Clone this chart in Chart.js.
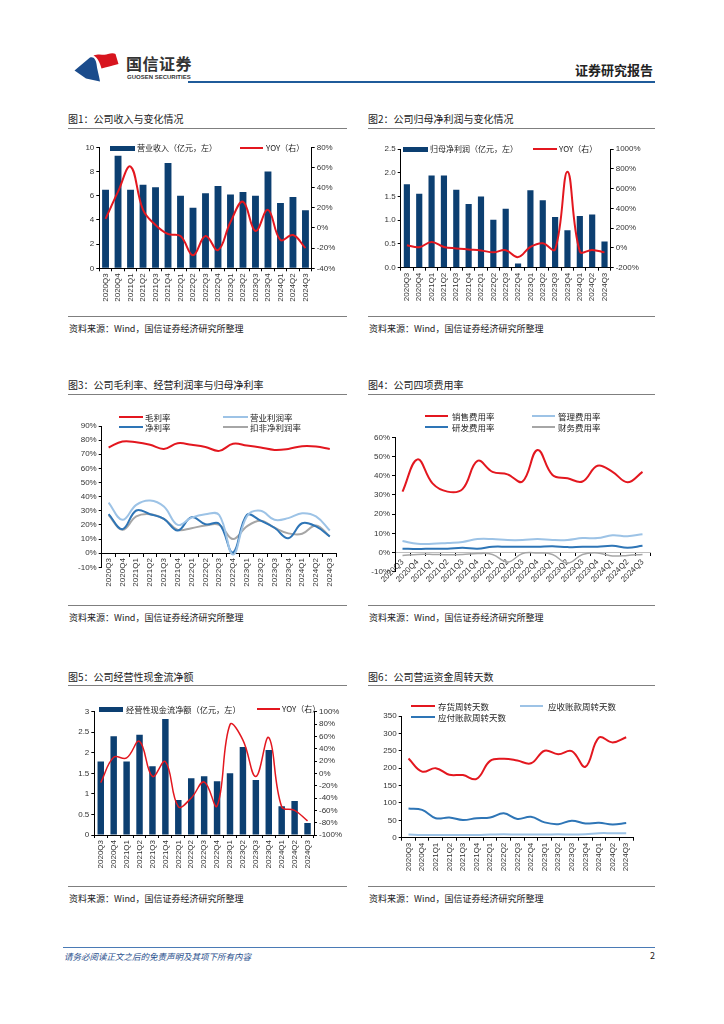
<!DOCTYPE html>
<html lang="zh-CN">
<head>
<meta charset="utf-8">
<title>证券研究报告</title>
<script src="https://cdn.jsdelivr.net/npm/chart.js@4.4.1/dist/chart.umd.min.js"></script>
<style>
  html, body { margin: 0; padding: 0; background: #fff; }
  body { width: 724px; height: 1024px; position: relative; overflow: hidden;
         font-family: "Noto Sans CJK SC", "Liberation Sans", sans-serif; color: #222; }
  .abs { position: absolute; white-space: nowrap; }
  .title { font-size: 10px; line-height: 12px; color: #222; }
  .rule { height: 0; border-top: 1px solid #7f7f7f; }
  .src { font-size: 9px; line-height: 11px; color: #222; }
  .box { position: absolute; }
  .leg { position: absolute; font-size: 8px; line-height: 10px; color: #222; white-space: nowrap; }
  .sw { position: absolute; }
</style>
</head>
<body>

<!-- cabecera -->
<svg class="abs" style="left:0;top:0" width="724" height="100">
  <path d="M74.5 70.5 L90 57.5 C94 56 96 60 96.5 64 C97 69 99 75 100 81.5 L86 78.5 Z" fill="#1b4c8c"/>
  <path d="M93.5 55.5 C100 53 104 56 108 54 C111 53 114 53 115.5 54 L118.5 64 C112 66 106 67 101.5 68.5 C100 63 98 58 93.5 55.5 Z" fill="#d7141e"/>
</svg>
<div class="abs" style="left:126px;top:54px;font-size:16px;line-height:18px;font-weight:bold;color:#333;letter-spacing:0.5px">国信证券</div>
<div class="abs" style="left:127px;top:74px;font-size:6px;line-height:7px;color:#333;font-family:'Liberation Sans',sans-serif;font-weight:bold">GUOSEN SECURITIES</div>
<div class="abs" style="left:575px;top:62px;font-size:13px;line-height:16px;font-weight:bold;color:#222">证券研究报告</div>
<div class="abs" style="left:188px;top:81px;width:467px;height:2px;background:#1f5b9a"></div>

<!-- títulos -->
<div class="abs title" style="left:68px;top:113px">图1：公司收入与变化情况</div>
<div class="abs rule" style="left:68px;top:128px;width:279px"></div>
<div class="abs title" style="left:368px;top:113px">图2：公司归母净利润与变化情况</div>
<div class="abs rule" style="left:368px;top:128px;width:287px"></div>
<div class="abs title" style="left:68px;top:379px">图3：公司毛利率、经营利润率与归母净利率</div>
<div class="abs rule" style="left:68px;top:394px;width:279px"></div>
<div class="abs title" style="left:368px;top:379px">图4：公司四项费用率</div>
<div class="abs rule" style="left:368px;top:394px;width:287px"></div>
<div class="abs title" style="left:68px;top:671px">图5：公司经营性现金流净额</div>
<div class="abs rule" style="left:68px;top:685px;width:279px"></div>
<div class="abs title" style="left:368px;top:671px">图6：公司营运资金周转天数</div>
<div class="abs rule" style="left:368px;top:685px;width:287px"></div>

<!-- gráficos -->
<div class="box" style="left:60px;top:140px;width:290px;height:170px"><canvas id="c1"></canvas></div>
<div class="box" style="left:360px;top:140px;width:300px;height:170px"><canvas id="c2"></canvas></div>
<div class="box" style="left:60px;top:415px;width:290px;height:175px"><canvas id="c3"></canvas></div>
<div class="box" style="left:355px;top:425px;width:305px;height:165px"><canvas id="c4"></canvas></div>
<div class="box" style="left:55px;top:700px;width:295px;height:180px"><canvas id="c5"></canvas></div>
<div class="box" style="left:360px;top:705px;width:300px;height:175px"><canvas id="c6"></canvas></div>

<div id="legends"></div>

<!-- fuentes -->
<div class="abs rule" style="left:68px;top:316px;width:279px"></div>
<div class="abs src" style="left:69px;top:323px">资料来源：Wind，国信证券经济研究所整理</div>
<div class="abs rule" style="left:368px;top:316px;width:287px"></div>
<div class="abs src" style="left:369px;top:323px">资料来源：Wind，国信证券经济研究所整理</div>
<div class="abs rule" style="left:68px;top:605px;width:279px"></div>
<div class="abs src" style="left:69px;top:612px">资料来源：Wind，国信证券经济研究所整理</div>
<div class="abs rule" style="left:368px;top:605px;width:287px"></div>
<div class="abs src" style="left:369px;top:612px">资料来源：Wind，国信证券经济研究所整理</div>
<div class="abs rule" style="left:68px;top:886px;width:279px"></div>
<div class="abs src" style="left:69px;top:893px">资料来源：Wind，国信证券经济研究所整理</div>
<div class="abs rule" style="left:368px;top:886px;width:287px"></div>
<div class="abs src" style="left:369px;top:893px">资料来源：Wind，国信证券经济研究所整理</div>

<!-- pie de página -->
<div class="abs" style="left:63px;top:947px;width:592px;height:1px;background:#4a7ab5"></div>
<div class="abs" style="left:64px;top:951px;font-size:8.5px;line-height:10px;font-style:italic;color:#1f4e8c">请务必阅读正文之后的免责声明及其项下所有内容</div>
<div class="abs" style="left:650px;top:950px;font-size:9px;line-height:11px;color:#222">2</div>

<script>
// Datos
const quarters = ['2020Q3', '2020Q4', '2021Q1', '2021Q2', '2021Q3', '2021Q4', '2022Q1', '2022Q2', '2022Q3',
    '2022Q4', '2023Q1', '2023Q2', '2023Q3', '2023Q4', '2024Q1', '2024Q2', '2024Q3'];

// 图1 营业收入（亿元）与 YOY（%）
const revenue = [6.5, 9.3, 6.5, 6.9, 6.7, 8.7, 6.0, 5.0, 6.2, 6.8, 6.1, 6.3, 6.0, 8.0, 5.4, 5.9, 4.8];
const revenueYoy = [9, 36, 61, 18, 3, -6, -8, -27, -8, -22, 6, 26, -3, 18, -12, -7, -20];
const revenueTicks = [0, 2, 4, 6, 8, 10];
const revenueYoyTicks = [-40, -20, 0, 20, 40, 60, 80];

// 图2 归母净利润（亿元）与 YOY（%）
const netProfit = [1.76, 1.56, 1.94, 1.94, 1.64, 1.34, 1.50, 1.01, 1.24, 0.09, 1.63, 1.42, 1.07, 0.79, 1.09, 1.12, 0.55];
const netProfitYoy = [27, 7, 60, 10, -5, -15, -25, -45, -23, -93, 10, 47, -15, 770, -35, -20, -45];
const netProfitTicks = [0, 0.5, 1.0, 1.5, 2.0, 2.5];
const netProfitYoyTicks = [-200, 0, 200, 400, 600, 800, 1000];

// 图3 利润率（%）
const grossMargin = [74.8, 79.0, 78.5, 76.7, 73.8, 77.8, 76.7, 75.2, 72.4, 77.4, 76.2, 74.8, 73.1, 73.8, 75.7, 75.5, 73.8];
const opMargin = [35.8, 23.6, 34.2, 37.3, 33.0, 20.0, 25.2, 27.6, 27.0, -1.0, 26.0, 30.0, 23.6, 24.8, 28.3, 26.0, 16.0];
const netMargin = [27.6, 17.0, 30.2, 27.6, 24.3, 16.0, 25.5, 20.5, 20.7, 0.5, 27.0, 23.0, 18.0, 10.6, 21.2, 18.9, 11.8];
const deductedMargin = [27.0, 16.5, 26.0, 27.6, 24.3, 16.5, 17.7, 19.6, 20.0, 10.0, 19.0, 23.0, 18.0, 14.0, 13.7, 19.6, 11.8];
const marginTicks = [-10, 0, 10, 20, 30, 40, 50, 60, 70, 80, 90];

// 图4 四项费用率（%）
const salesExp = [31.7, 48.5, 36.0, 31.7, 33.0, 47.7, 42.0, 40.7, 37.0, 53.4, 40.4, 38.7, 37.0, 45.2, 42.0, 36.6, 42.0];
const adminExp = [6.0, 4.5, 4.5, 5.0, 5.5, 7.0, 7.0, 6.5, 6.5, 7.0, 6.5, 6.5, 7.5, 7.5, 9.0, 8.5, 9.5];
const rdExp = [2.0, 1.8, 2.0, 2.0, 2.5, 2.0, 3.0, 3.0, 3.0, 3.0, 3.3, 2.8, 3.0, 3.0, 3.5, 2.5, 3.5];
const finExp = [-1.5, -1.0, -1.0, -1.2, -1.0, -0.5, -1.0, -5.0, -0.5, -0.3, -1.0, -5.5, -1.0, -0.2, -1.8, -1.5, -1.0];
const expenseTicks = [-10, 0, 10, 20, 30, 40, 50, 60];

// 图5 经营性现金流净额（亿元）与 YOY（%）
const opCashFlow = [1.79, 2.40, 1.79, 2.44, 1.67, 2.82, 0.85, 1.38, 1.43, 1.31, 1.50, 2.14, 1.34, 2.07, 0.70, 0.83, 0.29];
const opCashFlowYoy = [-15, 26, 25, 52, -5, 19, -54, -40, -14, -53, 79, 54, -5, 58, -54, -60, -77];
const cashTicks = [0, 0.5, 1, 1.5, 2, 2.5, 3];
const cashYoyTicks = [-100, -80, -60, -40, -20, 0, 20, 40, 60, 80, 100];

// 图6 营运资金周转天数
const inventoryDays = [228, 190, 200, 181, 180, 169, 221, 227, 222, 214, 250, 240, 249, 204, 288, 274, 289];
const receivableDays = [9, 8, 8, 8, 8, 8, 9, 10, 9, 9, 9, 10, 9, 10, 13, 13, 13];
const payableDays = [84, 80, 56, 58, 51, 56, 58, 70, 54, 60, 44, 39, 49, 41, 43, 38, 42];
const dayTicks = [0, 50, 100, 150, 200, 250, 300, 350];

const NAVY = '#0c3f71';
const RED = '#e3171f';
const LIGHT = '#9dc3e6';
const BLUE = '#2e75b6';
const GRAY = '#a6a6a6';

Chart.defaults.font.family = '"Liberation Sans", Arial, sans-serif';
Chart.defaults.font.size = 8;
Chart.defaults.color = '#333';
Chart.defaults.animation = false;
Chart.defaults.responsive = true;
Chart.defaults.maintainAspectRatio = false;
Chart.defaults.plugins.legend.display = false;
Chart.defaults.plugins.tooltip.enabled = false;

const pct = v => v + '%';

// Eje Y con ticks fijos y ancho fijo
function yAxis(position, ticksArr, width, fmt, extra) {
    return Object.assign({
        position: position,
        min: ticksArr[0],
        max: ticksArr[ticksArr.length - 1],
        afterBuildTicks: s => { s.ticks = ticksArr.map(v => ({ value: v })); },
        afterFit: s => { s.width = width; },
        border: { color: '#000', width: 1 },
        grid: { drawOnChartArea: false, color: '#000', tickLength: 3 },
        ticks: { callback: fmt || (v => v), autoSkip: false, padding: 2, color: '#333' }
    }, extra || {});
}

// Eje X de categorías
function xAxis(height, rotation, extra) {
    return Object.assign({
        offset: true,
        afterFit: s => { s.height = height; },
        border: { color: '#000', width: 1 },
        grid: { drawOnChartArea: false, offset: true, color: '#000', tickLength: 3 },
        ticks: { autoSkip: false, minRotation: rotation, maxRotation: rotation, padding: 2, color: '#333' }
    }, extra || {});
}

function lineSet(data, color, width, axis) {
    return {
        type: 'line',
        data: data,
        borderColor: color,
        borderWidth: width,
        pointRadius: 0,
        tension: 0.4,
        fill: false,
        yAxisID: axis || 'y',
        order: 0
    };
}

function barSet(data, pctBar) {
    return {
        type: 'bar',
        data: data,
        backgroundColor: NAVY,
        barPercentage: pctBar,
        categoryPercentage: 1,
        yAxisID: 'y',
        order: 1
    };
}

// 图1
new Chart(document.getElementById('c1'), {
    data: {
        labels: quarters,
        datasets: [barSet(revenue, 0.55), lineSet(revenueYoy, RED, 2, 'y1')]
    },
    options: {
        layout: { padding: { top: 7.3, right: 0, bottom: 0, left: 0 } },
        scales: {
            x: xAxis(41.7, 90),
            y: yAxis('left', revenueTicks, 39.3),
            y1: yAxis('right', revenueYoyTicks, 38.3, pct)
        }
    }
});

// 图2
new Chart(document.getElementById('c2'), {
    data: {
        labels: quarters,
        datasets: [barSet(netProfit, 0.5), lineSet(netProfitYoy, RED, 2, 'y1')]
    },
    options: {
        layout: { padding: { top: 9, right: 0, bottom: 0, left: 0 } },
        scales: {
            x: xAxis(42.3, 90),
            y: yAxis('left', netProfitTicks, 40.7, v => v.toFixed(1)),
            y1: yAxis('right', netProfitYoyTicks, 49.3, pct)
        }
    }
});

// 图3
new Chart(document.getElementById('c3'), {
    type: 'line',
    data: {
        labels: quarters,
        datasets: [
            lineSet(grossMargin, RED, 2),
            lineSet(opMargin, LIGHT, 2),
            lineSet(netMargin, BLUE, 2),
            lineSet(deductedMargin, GRAY, 2)
        ]
    },
    options: {
        layout: { padding: { top: 11, right: 13.3, bottom: 22.7, left: 0 } },
        scales: {
            x: xAxis(0, 90, { position: { y: 0 } }),
            y: yAxis('left', marginTicks, 41.7, pct)
        }
    }
});

// 图4
const x4 = xAxis(0, 45, { position: { y: 0 } });
x4.border = { color: '#bfbfbf', width: 1 };
new Chart(document.getElementById('c4'), {
    type: 'line',
    data: {
        labels: quarters,
        datasets: [
            lineSet(salesExp, RED, 2),
            lineSet(adminExp, LIGHT, 2),
            lineSet(rdExp, BLUE, 2),
            lineSet(finExp, GRAY, 1.5)
        ]
    },
    options: {
        layout: { padding: { top: 12.3, right: 10, bottom: 18.3, left: 0 } },
        scales: {
            x: x4,
            y: yAxis('left', expenseTicks, 40, pct)
        }
    }
});

// 图5
new Chart(document.getElementById('c5'), {
    data: {
        labels: quarters,
        datasets: [barSet(opCashFlow, 0.5), lineSet(opCashFlowYoy, RED, 1.5, 'y1')]
    },
    options: {
        layout: { padding: { top: 11.7, right: 0, bottom: 0, left: 0 } },
        scales: {
            x: xAxis(45, 90),
            y: yAxis('left', cashTicks, 39.3),
            y1: yAxis('right', cashYoyTicks, 36, pct)
        }
    }
});

// 图6
new Chart(document.getElementById('c6'), {
    type: 'line',
    data: {
        labels: quarters,
        datasets: [
            lineSet(inventoryDays, RED, 2),
            lineSet(receivableDays, LIGHT, 2),
            lineSet(payableDays, BLUE, 2)
        ]
    },
    options: {
        layout: { padding: { top: 11, right: 27, bottom: 0, left: 0 } },
        scales: {
            x: xAxis(42.3, 90),
            y: yAxis('left', dayTicks, 41.7)
        }
    }
});

// Leyendas en HTML (sobre el área de trazado)
const legendItems = [
    // [tipo, color, x muestra, ancho muestra, x texto, y centro, texto, tamaño]
    ['bar', NAVY, 110, 25, 137, 148, '营业收入（亿元，左）', 8],
    ['line', RED, 240, 23, 266, 148, 'YOY（右）', 8],
    ['bar', NAVY, 403, 25, 430, 149, '归母净利润（亿元，左）', 8],
    ['line', RED, 533, 24, 559, 149, 'YOY（右）', 8],
    ['line', RED, 119, 24, 145, 416.7, '毛利率', 8.5],
    ['line', LIGHT, 223, 25, 250, 416.7, '营业利润率', 8.5],
    ['line', BLUE, 119, 24, 145, 427.3, '净利率', 8.5],
    ['line', GRAY, 223, 25, 250, 427.3, '扣非净利润率', 8.5],
    ['line', RED, 425, 23, 452, 415.7, '销售费用率', 8.5],
    ['line', LIGHT, 532, 23, 558, 415.7, '管理费用率', 8.5],
    ['line', BLUE, 425, 23, 452, 426.7, '研发费用率', 8.5],
    ['line', GRAY, 532, 23, 558, 426.7, '财务费用率', 8.5],
    ['bar', NAVY, 99, 24, 126, 709, '经营性现金流净额（亿元，左）', 8.2],
    ['line', RED, 257, 23, 282, 709, 'YOY（右）', 8],
    ['line', RED, 411, 24, 438, 705.7, '存货周转天数', 8.5],
    ['line', LIGHT, 520, 23, 548, 705.7, '应收账款周转天数', 8.5],
    ['line', BLUE, 411, 24, 438, 716.7, '应付账款周转天数', 8.5]
];

const legendRoot = document.getElementById('legends');
legendItems.forEach(([kind, color, sx, sw, tx, cy, text, size]) => {
    const sh = kind === 'bar' ? 5 : 2;
    const swatch = document.createElement('div');
    swatch.className = 'sw';
    swatch.style.cssText = `left:${sx}px;top:${cy - sh / 2}px;width:${sw}px;height:${sh}px;background:${color}`;
    legendRoot.appendChild(swatch);
    const label = document.createElement('div');
    label.className = 'leg';
    label.style.cssText = `left:${tx}px;top:${cy - 5}px;font-size:${size}px`;
    label.textContent = text;
    legendRoot.appendChild(label);
});
</script>
</body>
</html>
